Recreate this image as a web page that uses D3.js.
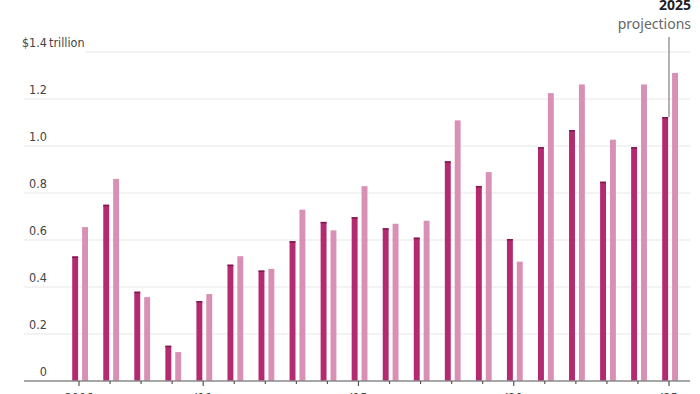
<!DOCTYPE html>
<html>
<head>
<meta charset="utf-8">
<script src="https://cdn.jsdelivr.net/npm/d3@7"></script>
<style>
  html, body { margin: 0; padding: 0; background: #fff; }
  svg { display: block; }
  .tick-label { font-family: "Liberation Sans Narrow", "DejaVu Sans Condensed", "Roboto", sans-serif; font-size: 12.5px; fill: #444; }
  .note { font-family: "Noto Sans", "Open Sans", sans-serif; }
</style>
</head>
<body>
<svg id="chart"></svg>
<script>
// years on the x axis
var years = [2006, 2007, 2008, 2009, 2010, 2011, 2012, 2013, 2014, 2015,
             2016, 2017, 2018, 2019, 2020, 2021, 2022, 2023, 2024, 2025];
// dark series, trillions of dollars
var darkValues = [0.53, 0.75, 0.38, 0.15, 0.34, 0.495, 0.47, 0.595, 0.677, 0.697,
                  0.65, 0.61, 0.935, 0.83, 0.604, 0.995, 1.068, 0.848, 0.995, 1.123];
// light series, trillions of dollars
var lightValues = [0.655, 0.86, 0.357, 0.123, 0.37, 0.531, 0.477, 0.729, 0.641, 0.829,
                   0.669, 0.682, 1.109, 0.889, 0.508, 1.225, 1.262, 1.027, 1.262, 1.311];
var yTicks = [0, 0.2, 0.4, 0.6, 0.8, 1.0, 1.2, 1.4];
var xLabels = [[2006, '2006'], [2010, '\u201910'], [2015, '\u201915'], [2020, '\u201920'], [2025, '\u201925']];

var width = 700, height = 394;
var left = 24, right = 690;

var svg = d3.select('#chart')
    .attr('width', width)
    .attr('height', height);

var x = d3.scalePoint()
    .domain(years)
    .range([79, 669]);

// dark bar sits left of the tick, light bar right of it
var xSub = d3.scaleBand()
    .domain(['dark', 'light'])
    .range([-6.8, 9])
    .paddingInner(0.4);

var y = d3.scaleLinear()
    .domain([0, 1.4])
    .range([381, 52]);

// gridlines
svg.append('g')
  .selectAll('line')
  .data(yTicks.filter(function(d) { return d > 0; }))
  .enter().append('line')
    .attr('x1', function(d) { return d === 1.4 ? 86 : left; })
    .attr('x2', right)
    .attr('y1', function(d) { return y(d); })
    .attr('y2', function(d) { return y(d); })
    .attr('stroke', '#e8e8e8')
    .attr('stroke-width', 1.2);

// y labels, sitting just above their gridline
var yLab = svg.append('g');
yLab.selectAll('text')
  .data(yTicks)
  .enter().append('text')
    .attr('class', 'tick-label')
    .attr('x', 47)
    .attr('y', function(d) { return y(d) - 5; })
    .attr('text-anchor', 'end')
    .text(function(d) { return d === 1.4 ? '$1.4' : d3.format('.1f')(d).replace(/^0\.0$/, '0'); });
yLab.append('text')
    .attr('class', 'tick-label')
    .attr('x', 49)
    .attr('y', y(1.4) - 5)
    .text('trillion');

var rows = years.map(function(yr, i) {
  return {year: yr, dark: darkValues[i], light: lightValues[i]};
});

var groups = svg.append('g')
  .selectAll('g')
  .data(rows)
  .enter().append('g')
    .attr('transform', function(d) { return 'translate(' + x(d.year) + ',0)'; });

groups.append('rect')
    .attr('x', xSub('dark'))
    .attr('width', xSub.bandwidth())
    .attr('y', function(d) { return y(d.dark); })
    .attr('height', function(d) { return y(0) - y(d.dark); })
    .attr('fill', '#b42a70');
groups.append('rect')
    .attr('x', xSub('dark'))
    .attr('width', xSub.bandwidth())
    .attr('y', function(d) { return y(d.dark); })
    .attr('height', 1.5)
    .attr('fill', '#7d1a4d');

groups.append('rect')
    .attr('x', xSub('light'))
    .attr('width', xSub.bandwidth())
    .attr('y', function(d) { return y(d.light); })
    .attr('height', function(d) { return y(0) - y(d.light); })
    .attr('fill', '#d891b5');

// baseline and ticks
svg.append('line')
    .attr('x1', left).attr('x2', right)
    .attr('y1', y(0)).attr('y2', y(0))
    .attr('stroke', '#8a8a8a')
    .attr('stroke-width', 1.3);

var labelled = xLabels.map(function(d) { return d[0]; });
svg.append('g')
  .selectAll('line')
  .data(years)
  .enter().append('line')
    .attr('x1', function(d) { return x(d); })
    .attr('x2', function(d) { return x(d); })
    .attr('y1', y(0))
    .attr('y2', function(d) { return y(0) + (labelled.indexOf(d) >= 0 ? 5 : 3); })
    .attr('stroke', '#555')
    .attr('stroke-width', 1.2);

svg.append('g')
  .selectAll('text')
  .data(xLabels)
  .enter().append('text')
    .attr('class', 'tick-label')
    .attr('x', function(d) { return x(d[0]); })
    .attr('y', 402)
    .attr('text-anchor', 'middle')
    .text(function(d) { return d[1]; });

// 2025 projections note
var last = years[years.length - 1];
svg.append('line')
    .attr('x1', x(last)).attr('x2', x(last))
    .attr('y1', 37)
    .attr('y2', y(darkValues[darkValues.length - 1]))
    .attr('stroke', '#8a8a8a')
    .attr('stroke-width', 1.3);

svg.append('text')
    .attr('class', 'note')
    .attr('x', 691)
    .attr('y', 10)
    .attr('text-anchor', 'end')
    .style('font-size', '14px')
    .style('font-weight', 'bold')
    .attr('fill', '#222')
    .text('2025');
svg.append('text')
    .attr('class', 'note')
    .attr('x', 691)
    .attr('y', 29)
    .attr('text-anchor', 'end')
    .style('font-size', '14px')
    .attr('fill', '#666')
    .text('projections');
</script>
</body>
</html>
